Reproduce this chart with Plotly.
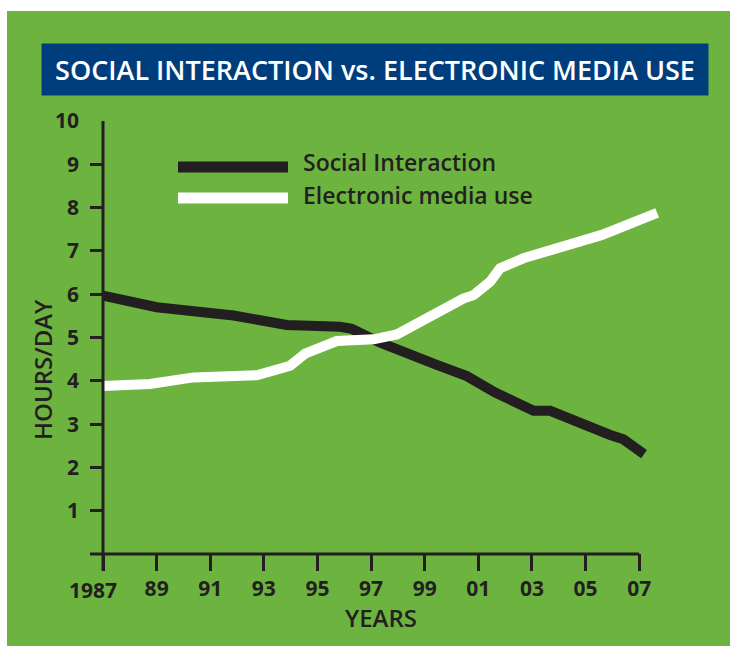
import plotly.graph_objects as go

# ---------------- data ----------------
social_years = [1987.0, 1987.8, 1989.0, 1991.87, 1993.85, 1995.84, 1996.28, 1997.34,
                1998.83, 1999.45, 2000.57, 2001.63, 2003.06, 2003.68, 2005.92, 2006.41, 2007.18]
social_hours = [5.97, 5.85, 5.7, 5.51, 5.29, 5.25, 5.2, 4.88,
                4.56, 4.37, 4.11, 3.73, 3.31, 3.31, 2.75, 2.65, 2.31]

media_years = [1987.0, 1988.75, 1990.37, 1992.73, 1993.98, 1994.54, 1995.72, 1997.09,
               1997.96, 1998.83, 1999.51, 2000.44, 2000.82, 2001.44, 2001.81, 2002.68,
               2005.61, 2007.67]
media_hours = [3.88, 3.93, 4.08, 4.13, 4.35, 4.63, 4.92, 4.96,
               5.07, 5.37, 5.64, 5.9, 5.98, 6.29, 6.6, 6.83,
               7.37, 7.88]

x_tickvals = [1987, 1989, 1991, 1993, 1995, 1997, 1999, 2001, 2003, 2005, 2007]
x_ticktext = ["", "89", "91", "93", "95", "97", "99", "01", "03", "05", "07"]
y_tickvals = [1, 2, 3, 4, 5, 6, 7, 8, 9, 10]

title_text = "SOCIAL INTERACTION vs. ELECTRONIC MEDIA USE"
series_names = ["Social Interaction", "Electronic media use"]

# ---------------- style ----------------
W, H = 730, 646
ML, MR, MT, MB = 90, 64, 121, 75
PW, PH = W - ML - MR, H - MT - MB
GREEN = "#6db33f"
BLUE = "#003d7c"
DARK = "#231f20"
WHITE = "#ffffff"
FONT = "Open Sans"


def px(x):
    return (x - ML) / PW


def py(y):
    return (H - MB - y) / PH


fig = go.Figure()
fig.add_trace(go.Scatter(x=social_years, y=social_hours, mode="lines", name=series_names[0],
                         line=dict(color=DARK, width=10), showlegend=False))
fig.add_trace(go.Scatter(x=media_years, y=media_hours, mode="lines", name=series_names[1],
                         line=dict(color=WHITE, width=10), showlegend=False))

shapes = [
    # white border strips (left and top)
    dict(type="rect", xref="paper", yref="paper", x0=px(-5), x1=px(7), y0=py(-5), y1=py(H + 5),
         fillcolor=WHITE, line=dict(width=0), layer="below"),
    dict(type="rect", xref="paper", yref="paper", x0=px(-5), x1=px(W + 5), y0=py(-5), y1=py(11),
         fillcolor=WHITE, line=dict(width=0), layer="below"),
    # axis lines
    dict(type="line", xref="x", yref="y", x0=1986.5, x1=2007, y0=0, y1=0,
         line=dict(color=DARK, width=3)),
    dict(type="line", xref="x", yref="y", x0=1987, x1=1987, y0=-0.39, y1=10,
         line=dict(color=DARK, width=3)),
    # legend samples
    dict(type="line", xref="paper", yref="paper", x0=px(178), x1=px(288), y0=py(167), y1=py(167),
         line=dict(color=DARK, width=11)),
    dict(type="line", xref="paper", yref="paper", x0=px(178), x1=px(288), y0=py(198), y1=py(198),
         line=dict(color=WHITE, width=11)),
]

annotations = [
    dict(text=title_text, xref="paper", yref="paper", x=px(375), y=py(69.5),
         xanchor="center", yanchor="middle", showarrow=False, bgcolor=BLUE,
         width=666, height=51, borderpad=0,
         font=dict(family=FONT, size=27, color=WHITE, weight=600)),
    dict(text=series_names[0], xref="paper", yref="paper", x=px(301), y=py(162),
         xanchor="left", yanchor="middle", showarrow=False,
         font=dict(family=FONT, size=23, color=DARK, weight=600)),
    dict(text=series_names[1], xref="paper", yref="paper", x=px(301), y=py(195),
         xanchor="left", yanchor="middle", showarrow=False,
         font=dict(family=FONT, size=23, color=DARK, weight=600)),
    dict(text="HOURS/DAY", xref="paper", yref="paper", x=px(42), y=py(370),
         xanchor="center", yanchor="middle", showarrow=False, textangle=-90,
         font=dict(family=FONT, size=24, color=DARK, weight=600)),
    dict(text="YEARS", xref="paper", yref="paper", x=px(381), y=py(617),
         xanchor="center", yanchor="middle", showarrow=False,
         font=dict(family=FONT, size=24, color=DARK, weight=600)),
    dict(text="1987", xref="x", yref="paper", x=1987, y=py(574),
         xanchor="right", yanchor="top", xshift=16, showarrow=False,
         font=dict(family=FONT, size=21, color=DARK, weight=700)),
]

fig.update_layout(
    width=W, height=H,
    margin=dict(l=ML, r=MR, t=MT, b=MB),
    paper_bgcolor=GREEN,
    plot_bgcolor="rgba(0,0,0,0)",
    shapes=shapes,
    annotations=annotations,
    showlegend=False,
    xaxis=dict(range=[1986.515, 2008.0], tickvals=x_tickvals, ticktext=x_ticktext,
               ticks="inside", ticklen=17, tickwidth=3, tickcolor=DARK,
               showgrid=False, zeroline=False, showline=False,
               tickfont=dict(family=FONT, size=21, color=DARK, weight=700),
               ticklabelstandoff=3, fixedrange=True),
    yaxis=dict(range=[-0.39, 10.0], tickvals=y_tickvals,
               ticks="inside", ticklen=13, tickwidth=3, tickcolor=DARK,
               showgrid=False, zeroline=False, showline=False,
               tickfont=dict(family=FONT, size=21, color=DARK, weight=700),
               ticklabelstandoff=10, fixedrange=True),
)

fig.write_html("out.html")
